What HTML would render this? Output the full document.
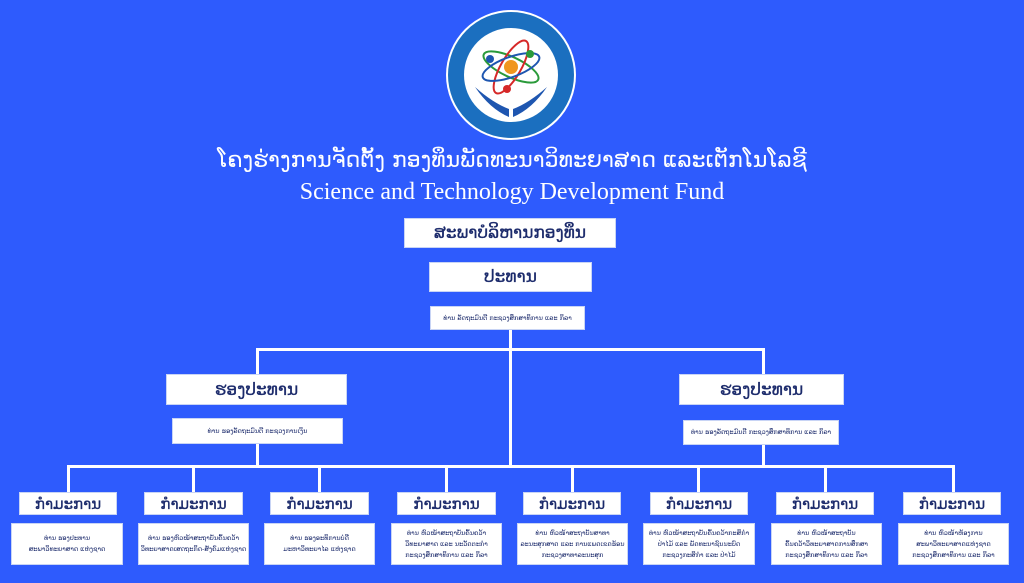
<!DOCTYPE html>
<html><head><meta charset="utf-8"><style>
*{margin:0;padding:0;box-sizing:border-box}
body{width:1024px;height:583px;background:#2e5bfd;position:relative;overflow:hidden;font-family:"DejaVu Sans","Liberation Sans",sans-serif}
.b{position:absolute;background:#fff;border:1px solid #c8d4f5;color:#1b2a6b;display:flex;align-items:center;justify-content:center;text-align:center}
.h{font-size:17px;font-weight:normal;-webkit-text-stroke:0.3px #1b2a6b}
.s{font-size:6.5px;line-height:11px}
.l{position:absolute;background:#fff}
.t{position:absolute;left:0;width:1024px;text-align:center;color:#fff}
</style></head><body>
<svg style="position:absolute;left:445px;top:9px" width="132" height="132" viewBox="0 0 132 132">
<circle cx="66" cy="66" r="65" fill="#fff"/><circle cx="66" cy="66" r="63" fill="#1b6fbf"/><circle cx="66" cy="66" r="47" fill="#fff"/>
<ellipse cx="66" cy="58" rx="30" ry="10" fill="none" stroke="#2a9a3a" stroke-width="2" transform="rotate(25 66 58)"/>
<ellipse cx="66" cy="58" rx="30" ry="10" fill="none" stroke="#d62828" stroke-width="2" transform="rotate(-60 66 58)"/>
<ellipse cx="66" cy="58" rx="30" ry="10" fill="none" stroke="#1e56b0" stroke-width="2" transform="rotate(-20 66 58)"/>
<circle cx="66" cy="58" r="7" fill="#f0961e"/><circle cx="85" cy="45" r="4" fill="#2a9a3a"/><circle cx="45" cy="50" r="4" fill="#1e56b0"/><circle cx="62" cy="80" r="4" fill="#d62828"/>
<path d="M30 78 Q45 100 64 108 L64 100 Q48 94 30 78Z M102 78 Q87 100 68 108 L68 100 Q84 94 102 78Z" fill="#1e56b0"/>
</svg>
<div class="t" style="top:148px;font-size:22px">ໂຄງຮ່າງການຈັດຕັ້ງ ກອງທຶນພັດທະນາວິທະຍາສາດ ແລະເຕັກໂນໂລຊີ</div>
<div class="t" style="top:179px;font-size:24px;font-family:'Liberation Serif',serif">Science and Technology Development Fund</div>
<div class="b h" style="left:404px;top:218px;width:212px;height:30px">ສະພາບໍລິຫານກອງທຶນ</div>
<div class="b h" style="left:429px;top:262px;width:163px;height:30px">ປະທານ</div>
<div class="b s" style="left:430px;top:306px;width:155px;height:24px">ທ່ານ ລັດຖະມົນຕີ ກະຊວງສຶກສາທິການ ແລະ ກິລາ</div>
<div class="l" style="left:509px;top:330px;width:3px;height:138px"></div>
<div class="l" style="left:256px;top:348px;width:509px;height:3px"></div>
<div class="l" style="left:256px;top:348px;width:3px;height:27px"></div>
<div class="l" style="left:762px;top:348px;width:3px;height:27px"></div>
<div class="b h" style="left:166px;top:374px;width:181px;height:31px">ຮອງປະທານ</div>
<div class="b h" style="left:679px;top:374px;width:165px;height:31px">ຮອງປະທານ</div>
<div class="b s" style="left:172px;top:418px;width:171px;height:26px">ທ່ານ ຮອງລັດຖະມົນຕີ ກະຊວງການເງິນ</div>
<div class="b s" style="left:683px;top:420px;width:156px;height:25px">ທ່ານ ຮອງລັດຖະມົນຕີ ກະຊວງສຶກສາທິການ ແລະ ກິລາ</div>
<div class="l" style="left:256px;top:444px;width:3px;height:24px"></div>
<div class="l" style="left:762px;top:445px;width:3px;height:23px"></div>
<div class="l" style="left:67px;top:465px;width:888px;height:3px"></div>
<div class="l" style="left:67px;top:465px;width:3px;height:28px"></div>
<div class="l" style="left:192px;top:465px;width:3px;height:28px"></div>
<div class="l" style="left:318px;top:465px;width:3px;height:28px"></div>
<div class="l" style="left:445px;top:465px;width:3px;height:28px"></div>
<div class="l" style="left:571px;top:465px;width:3px;height:28px"></div>
<div class="l" style="left:697px;top:465px;width:3px;height:28px"></div>
<div class="l" style="left:824px;top:465px;width:3px;height:28px"></div>
<div class="l" style="left:952px;top:465px;width:3px;height:28px"></div>

<div class="b h" style="left:19px;top:492px;width:98px;height:23px;font-size:15px">ກໍາມະການ</div>
<div class="b h" style="left:144px;top:492px;width:99px;height:23px;font-size:15px">ກໍາມະການ</div>
<div class="b h" style="left:270px;top:492px;width:99px;height:23px;font-size:15px">ກໍາມະການ</div>
<div class="b h" style="left:397px;top:492px;width:99px;height:23px;font-size:15px">ກໍາມະການ</div>
<div class="b h" style="left:523px;top:492px;width:98px;height:23px;font-size:15px">ກໍາມະການ</div>
<div class="b h" style="left:650px;top:492px;width:98px;height:23px;font-size:15px">ກໍາມະການ</div>
<div class="b h" style="left:776px;top:492px;width:98px;height:23px;font-size:15px">ກໍາມະການ</div>
<div class="b h" style="left:903px;top:492px;width:98px;height:23px;font-size:15px">ກໍາມະການ</div>

<div class="b s" style="left:11px;top:523px;width:112px;height:42px">ທ່ານ ຮອງປະທານ<br>ສະພາວິທະຍາສາດ ແຫ່ງຊາດ</div>
<div class="b s" style="left:138px;top:523px;width:111px;height:42px">ທ່ານ ຮອງຫົວໜ້າສະຖາບັນຄົ້ນຄວ້າ<br>ວິທະຍາສາດເສດຖະກິດ-ສັງຄົມແຫ່ງຊາດ</div>
<div class="b s" style="left:264px;top:523px;width:111px;height:42px">ທ່ານ ຮອງອະທິການບໍດີ<br>ມະຫາວິທະຍາໄລ ແຫ່ງຊາດ</div>
<div class="b s" style="left:391px;top:523px;width:111px;height:42px">ທ່ານ ຫົວໜ້າສະຖາບັນຄົ້ນຄວ້າ<br>ວິທະຍາສາດ ແລະ ນະວັດຕະກໍາ<br>ກະຊວງສຶກສາທິການ ແລະ ກິລາ</div>
<div class="b s" style="left:517px;top:523px;width:111px;height:42px">ທ່ານ ຫົວໜ້າສະຖາບັນສາທາ<br>ລະນະສຸກສາດ ແລະ ການແພດເຂດຮ້ອນ<br>ກະຊວງສາທາລະນະສຸກ</div>
<div class="b s" style="left:643px;top:523px;width:112px;height:42px">ທ່ານ ຫົວໜ້າສະຖາບັນຄົ້ນຄວ້າກະສິກໍາ<br>ປ່າໄມ້ ແລະ ພັດທະນາຊົນນະບົດ<br>ກະຊວງກະສິກໍາ ແລະ ປ່າໄມ້</div>
<div class="b s" style="left:771px;top:523px;width:111px;height:42px">ທ່ານ ຫົວໜ້າສະຖາບັນ<br>ຄົ້ນຄວ້າວິທະຍາສາດການສຶກສາ<br>ກະຊວງສຶກສາທິການ ແລະ ກິລາ</div>
<div class="b s" style="left:898px;top:523px;width:111px;height:42px">ທ່ານ ຫົວໜ້າຫ້ອງການ<br>ສະພາວິທະຍາສາດແຫ່ງຊາດ<br>ກະຊວງສຶກສາທິການ ແລະ ກິລາ</div>
</body></html>
